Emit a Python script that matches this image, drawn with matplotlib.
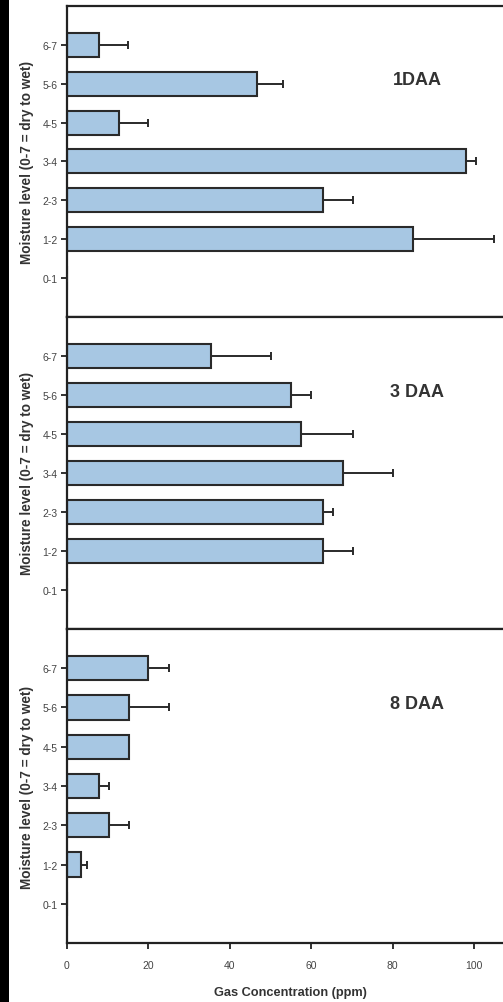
import matplotlib.pyplot as plt
import matplotlib.patches as patches

levels = ['0-1', '1-2', '2-3', '3-4', '4-5', '5-6', '6-7']

# 0-1 has no bar in any panel
daa1 = [0, 85, 63, 98, 12.8, 46.7, 7.9]
daa1_err = [0, 20, 7.3, 2.5, 7.2, 6.3, 7.1]

daa3 = [0, 63, 63, 67.8, 57.5, 55, 35.4]
daa3_err = [0, 7.3, 2.4, 12.2, 12.8, 5, 14.6]

daa8 = [0, 3.4, 10.3, 7.9, 15.2, 15.2, 20]
daa8_err = [0, 1.5, 4.9, 2.4, 0, 9.8, 5]

panel_names = ['1DAA', '3 DAA', '8 DAA']

plt.rcParams['font.family'] = ['Liberation Sans', 'DejaVu Sans']

fig = plt.figure(figsize=(5.03, 10.03), dpi=100)
fig.patch.set_facecolor('white')

# panels stacked with no gap, right side runs off the picture
left = 67 / 503
width = 110 * 4.07 / 503
boxes = [(0.6830, 0.3101), (0.3719, 0.3111), (0.0588, 0.3131)]

data = [(daa1, daa1_err), (daa3, daa3_err), (daa8, daa8_err)]
ypos = list(range(len(levels)))

for i, ((vals, errs), (b, h)) in enumerate(zip(data, boxes)):
    ax = fig.add_axes([left, b, width, h])
    xerr = [[0] * len(errs), errs]
    ax.barh(ypos, vals, height=0.62, color='#a7c7e3', edgecolor='#2a2a2a',
            linewidth=1.5, zorder=2)
    ax.errorbar(vals, ypos, xerr=xerr, fmt='none', ecolor='#2a2a2a',
                elinewidth=1.4, capsize=3, capthick=1.4, zorder=3)
    ax.set_xlim(0, 110)
    ax.set_ylim(-1, 7)
    ax.set_yticks(ypos)
    ax.set_yticklabels(levels, fontsize=7.5, color='#444444')
    ax.tick_params(axis='y', length=4, width=1.3, pad=3, color='#222222')
    for s in ax.spines.values():
        s.set_linewidth(1.6)
        s.set_color('#222222')
    ax.set_ylabel('Moisture level (0-7 = dry to wet)', fontsize=9.8,
                  fontweight='bold', color='#333333', labelpad=6)
    ax.text(86, 5.1, panel_names[i], ha='center', va='center', fontsize=13,
            fontweight='bold', color='#333333')
    if i < 2:
        ax.set_xticks([])
    else:
        ax.set_xticks([0, 20, 40, 60, 80, 100])
        ax.tick_params(axis='x', length=4, width=1.3, pad=8, labelsize=7.5,
                       labelcolor='#444444', color='#222222')
        ax.set_xlabel('Gas Concentration (ppm)', fontsize=9.2, fontweight='bold',
                      color='#333333', labelpad=12)

# dark strip down the left edge
fig.add_artist(patches.Rectangle((0, 0), 9 / 503, 1, transform=fig.transFigure,
                                 facecolor='black', edgecolor='none'))

fig.savefig('out.png', dpi=100)
